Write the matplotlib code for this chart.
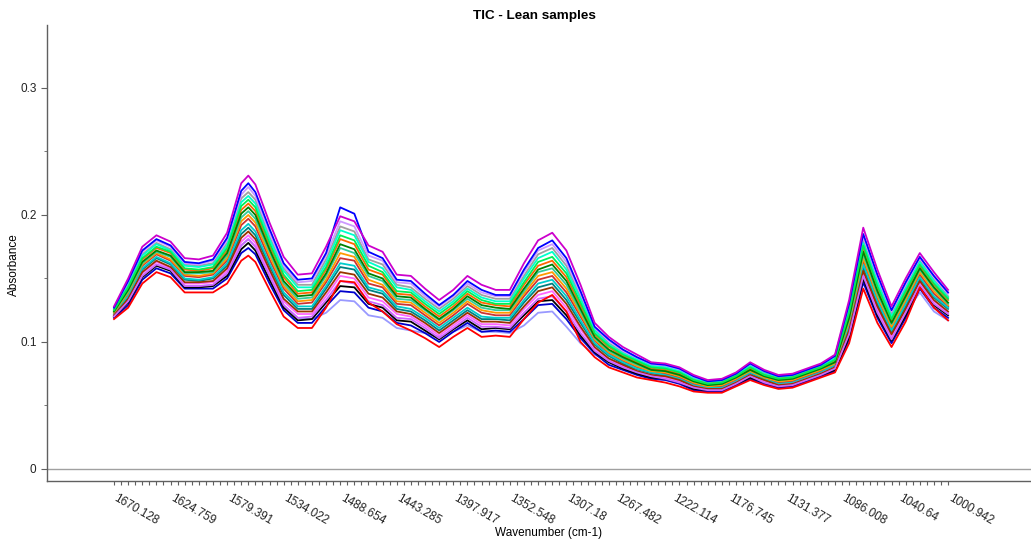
import numpy as np
import matplotlib.pyplot as plt
import matplotlib.transforms as mtransforms
from matplotlib.ticker import FixedLocator, MultipleLocator

plt.rcParams['font.family'] = ['Liberation Sans', 'DejaVu Sans']

# instrument grid: 119 points from 1670.128 down to 1000.942
wn_first = 1670.128
wn_step = 5.6711
n_points = 119
wn_all = wn_first - wn_step * np.arange(n_points)
# points (every 2nd point, plus the top of the 1580 band)
read_idx = list(range(0, 19, 2)) + [19] + list(range(20, 119, 2))
wn = wn_all[read_idx]

tick_values = [1670.128, 1624.759, 1579.391, 1534.022, 1488.654, 1443.285, 1397.917,
               1352.548, 1307.18, 1267.482, 1222.114, 1176.745, 1131.377, 1086.008,
               1040.64, 1000.942]
tick_labels = ['1670.128', '1624.759', '1579.391', '1534.022', '1488.654', '1443.285',
               '1397.917', '1352.548', '1307.18', '1267.482', '1222.114', '1176.745',
               '1131.377', '1086.008', '1040.64', '1000.942']

# absorbance in milli-absorbance units (top of band to bottom)
s_magenta = [128, 150, 175, 184, 179, 166, 165, 168, 186, 225, 231, 224, 194, 167, 153, 154, 175, 199, 195, 176,
             171, 153, 152, 142, 133, 141, 152, 145, 141, 141, 162, 180, 186, 172, 145, 115, 104, 96, 90, 84,
             83, 80, 74, 70, 71, 76, 84, 78, 74, 75, 79, 83, 90, 133, 190, 157, 128, 150, 170, 155, 141]
s_blue = [127, 148, 172, 181, 176, 163, 162, 165, 182, 219, 225, 218, 189, 162, 149, 150, 170, 206, 201, 171,
          166, 149, 148, 138, 129, 137, 148, 141, 137, 137, 157, 174, 180, 166, 140, 112, 102, 94, 88, 83,
          82, 79, 73, 69, 70, 75, 83, 77, 73, 74, 78, 82, 89, 130, 185, 153, 125, 147, 167, 152, 139]
s_lilac = [127, 147, 171, 180, 175, 162, 161, 164, 180, 216, 222, 215, 186, 160, 147, 148, 168, 195, 191, 168,
           164, 147, 146, 136, 128, 136, 146, 139, 136, 136, 155, 172, 177, 163, 138, 111, 101, 93, 87, 82,
           81, 78, 72, 69, 70, 75, 82, 77, 73, 74, 78, 82, 88, 128, 183, 151, 124, 145, 166, 151, 138]
s_gray = [126, 145, 169, 178, 173, 161, 160, 162, 178, 213, 218, 212, 183, 158, 145, 145, 165, 191, 187, 165,
          161, 145, 143, 134, 126, 134, 144, 137, 134, 134, 152, 169, 174, 160, 136, 110, 99, 92, 86, 81,
          80, 77, 71, 68, 69, 74, 81, 76, 72, 73, 77, 81, 87, 126, 180, 149, 122, 143, 164, 149, 136]
s_aqua = [126, 144, 168, 177, 172, 160, 159, 161, 176, 210, 215, 209, 181, 156, 143, 143, 162, 188, 184, 163,
          158, 143, 141, 132, 124, 132, 142, 135, 132, 132, 150, 166, 171, 157, 134, 109, 98, 91, 86, 81,
          80, 77, 71, 68, 69, 74, 81, 75, 72, 73, 77, 81, 87, 125, 178, 147, 120, 142, 163, 148, 135]
s_lime = [125, 143, 166, 175, 171, 158, 157, 159, 174, 207, 212, 206, 178, 153, 140, 141, 159, 184, 180, 160,
          155, 140, 139, 130, 122, 130, 140, 133, 130, 130, 147, 163, 167, 154, 131, 107, 97, 90, 85, 80,
          79, 76, 70, 67, 68, 73, 80, 74, 71, 72, 76, 80, 86, 123, 176, 144, 118, 140, 161, 146, 134]
s_darkorange = [125, 142, 165, 174, 170, 157, 156, 158, 172, 204, 209, 203, 176, 151, 138, 139, 157, 181, 177, 157,
                153, 138, 137, 128, 120, 128, 138, 131, 129, 128, 145, 160, 164, 151, 129, 106, 96, 89, 84, 79,
                78, 75, 70, 67, 68, 73, 79, 74, 71, 72, 76, 80, 85, 121, 174, 142, 117, 138, 160, 145, 133]
s_green = [124, 141, 163, 172, 168, 155, 155, 156, 170, 201, 206, 200, 173, 148, 136, 137, 154, 177, 173, 154,
           150, 136, 135, 126, 118, 126, 136, 129, 127, 126, 142, 157, 161, 148, 126, 104, 94, 88, 83, 78,
           77, 74, 69, 66, 67, 72, 78, 73, 70, 71, 75, 79, 84, 119, 171, 140, 115, 136, 158, 143, 131]
s_seagreen = [124, 140, 162, 171, 167, 154, 154, 155, 168, 198, 203, 197, 171, 146, 134, 135, 152, 174, 170, 152,
              148, 134, 133, 125, 117, 125, 134, 127, 125, 125, 140, 155, 158, 145, 124, 103, 93, 87, 82, 78,
              77, 74, 69, 66, 67, 72, 78, 73, 70, 71, 75, 79, 84, 118, 169, 138, 114, 135, 157, 142, 130]
s_orange = [123, 139, 161, 170, 165, 153, 152, 154, 166, 195, 200, 194, 168, 144, 132, 133, 149, 170, 167, 149,
            145, 132, 131, 123, 115, 123, 132, 125, 123, 123, 138, 152, 155, 142, 122, 102, 92, 86, 81, 77,
            76, 73, 68, 65, 66, 71, 77, 72, 69, 70, 74, 78, 83, 116, 166, 136, 112, 133, 155, 140, 129]
s_darkred = [123, 138, 160, 169, 164, 152, 151, 153, 164, 192, 197, 191, 165, 142, 130, 131, 147, 166, 164, 146,
             143, 130, 129, 121, 113, 121, 130, 123, 121, 121, 136, 149, 152, 139, 120, 101, 91, 85, 80, 77,
             75, 72, 67, 65, 65, 70, 77, 72, 68, 69, 73, 77, 83, 115, 164, 134, 111, 132, 153, 138, 128]
s_cyan = [122, 136, 158, 167, 162, 150, 149, 151, 162, 188, 193, 187, 162, 139, 128, 128, 144, 162, 160, 143,
          140, 128, 126, 119, 111, 119, 127, 120, 119, 119, 133, 146, 149, 136, 117, 99, 90, 84, 79, 76,
          74, 71, 66, 64, 64, 69, 76, 71, 67, 68, 72, 76, 82, 113, 161, 132, 109, 130, 151, 136, 127]
s_teal = [122, 135, 157, 166, 161, 149, 148, 150, 160, 185, 190, 184, 160, 137, 126, 126, 142, 159, 157, 141,
          138, 126, 124, 117, 109, 117, 125, 118, 118, 117, 131, 143, 146, 133, 115, 98, 89, 83, 78, 75,
          74, 71, 66, 64, 64, 69, 75, 71, 67, 68, 72, 76, 81, 111, 159, 130, 108, 128, 150, 135, 126]
s_brown = [121, 134, 155, 164, 159, 147, 147, 148, 158, 182, 187, 181, 157, 134, 124, 124, 139, 155, 153, 138,
           135, 124, 122, 115, 107, 115, 123, 116, 116, 115, 128, 140, 143, 130, 112, 96, 87, 82, 77, 74,
           73, 70, 65, 63, 63, 68, 74, 70, 66, 67, 71, 75, 80, 109, 156, 128, 106, 126, 148, 133, 124]
s_pink = [121, 133, 154, 163, 158, 146, 146, 147, 156, 179, 184, 178, 155, 132, 122, 122, 136, 152, 150, 135,
          132, 122, 120, 113, 105, 113, 121, 114, 114, 113, 126, 137, 140, 127, 110, 95, 86, 81, 77, 74,
          72, 69, 65, 63, 63, 68, 74, 69, 66, 67, 71, 75, 80, 108, 154, 126, 104, 125, 147, 132, 123]
s_violet = [120, 132, 152, 161, 157, 144, 144, 145, 154, 176, 181, 175, 152, 129, 119, 120, 133, 148, 146, 132,
            129, 119, 118, 111, 103, 111, 119, 112, 112, 111, 123, 134, 136, 124, 107, 93, 85, 80, 76, 73,
            71, 68, 64, 62, 62, 67, 73, 68, 65, 66, 70, 74, 79, 106, 152, 123, 102, 123, 145, 130, 122]
s_black = [120, 131, 151, 160, 156, 143, 143, 144, 152, 173, 178, 172, 149, 127, 117, 118, 131, 144, 143, 130,
           127, 117, 116, 109, 102, 110, 117, 110, 111, 110, 121, 132, 133, 121, 105, 92, 84, 79, 75, 72,
           71, 68, 63, 62, 62, 67, 72, 68, 65, 66, 70, 74, 78, 104, 150, 121, 101, 121, 144, 129, 121]
s_navy = [119, 129, 149, 158, 154, 142, 142, 142, 150, 170, 174, 169, 146, 125, 115, 115, 128, 140, 139, 127,
          124, 115, 113, 107, 100, 108, 115, 108, 109, 108, 118, 129, 130, 118, 103, 91, 82, 78, 74, 71,
          70, 67, 62, 61, 61, 66, 71, 67, 64, 65, 69, 73, 77, 102, 147, 119, 99, 119, 142, 127, 119]
s_lavender = [120, 132, 152, 161, 157, 144, 144, 145, 154, 176, 181, 175, 152, 129, 119, 118, 123, 133, 132, 121,
              119, 111, 109, 107, 104, 108, 113, 108, 108, 107, 113, 123, 124, 112, 99, 90, 85, 80, 76, 73,
              71, 68, 64, 62, 62, 67, 73, 68, 65, 66, 70, 74, 79, 106, 152, 123, 102, 123, 139, 124, 117]
s_red = [118, 127, 146, 155, 151, 139, 139, 139, 146, 164, 168, 163, 141, 120, 111, 111, 127, 148, 147, 131,
         124, 114, 109, 103, 96, 104, 111, 104, 105, 104, 118, 131, 137, 124, 100, 88, 80, 76, 72, 70,
         68, 65, 61, 60, 60, 65, 70, 66, 63, 64, 68, 72, 76, 99, 142, 115, 96, 116, 143, 127, 117]

# drawing order (last drawn ends on top)
spectra = [
    (s_lavender, '#9999ff'),
    (s_teal, '#008080'),
    (s_gray, '#a0a0a0'),
    (s_navy, '#0000cc'),
    (s_darkred, '#cc3333'),
    (s_lilac, '#cc99ff'),
    (s_cyan, '#00cccc'),
    (s_black, '#000000'),
    (s_orange, '#ff9900'),
    (s_pink, '#ff66ff'),
    (s_seagreen, '#33cc99'),
    (s_brown, '#993300'),
    (s_aqua, '#00ffcc'),
    (s_darkorange, '#ff6600'),
    (s_violet, '#cc66ff'),
    (s_green, '#008000'),
    (s_lime, '#00ee55'),
    (s_blue, '#0000ff'),
    (s_red, '#ff0000'),
    (s_magenta, '#cc00cc'),
]

fig = plt.figure(figsize=(10.31, 5.42), dpi=100)
ax = fig.add_axes([47 / 1031, 1 - 481 / 542, 984 / 1031, 456 / 542])

for vals, col in spectra:
    ax.plot(wn, np.array(vals) / 1000, color=col, lw=1.3)

ax.axhline(0, color='#a0a0a0', lw=1)

ax.set_xlim(1723.9, 934.4)
ax.set_ylim(-0.0095, 0.3496)

ax.xaxis.set_major_locator(FixedLocator(tick_values))
ax.set_xticklabels(tick_labels, rotation=-30, ha='left', va='top', rotation_mode='anchor')
ax.xaxis.set_minor_locator(FixedLocator(wn_all))
ax.yaxis.set_major_locator(FixedLocator([0, 0.1, 0.2, 0.3]))
ax.yaxis.set_minor_locator(MultipleLocator(0.05))
ax.set_yticklabels(['0', '0.1', '0.2', '0.3'])

ax.tick_params(axis='both', which='both', labelsize=8.5, colors='#606060', labelcolor='#222222')
ax.tick_params(axis='x', which='both', length=3, width=0.8, pad=5)
ax.tick_params(axis='y', which='major', length=4)
ax.tick_params(axis='y', which='minor', length=2.5)

# nudge the slanted labels a little to the right of their ticks
shift = mtransforms.ScaledTranslation(4 / 100, 0, fig.dpi_scale_trans)
for lbl in ax.get_xticklabels():
    lbl.set_transform(lbl.get_transform() + shift)

for side in ['top', 'right']:
    ax.spines[side].set_visible(False)
for side in ['left', 'bottom']:
    ax.spines[side].set_color('#606060')
    ax.spines[side].set_linewidth(1)

ax.set_title('TIC - Lean samples', fontsize=9.7, fontweight='bold', pad=4, x=0.4954)
ax.set_xlabel('Wavenumber (cm-1)', fontsize=8.5)
ax.xaxis.set_label_coords(0.5095, -0.10)
ax.set_ylabel('Absorbance', fontsize=8.5)
ax.yaxis.set_label_coords(-0.0274, 0.474)

fig.savefig('out.png', dpi=100)
